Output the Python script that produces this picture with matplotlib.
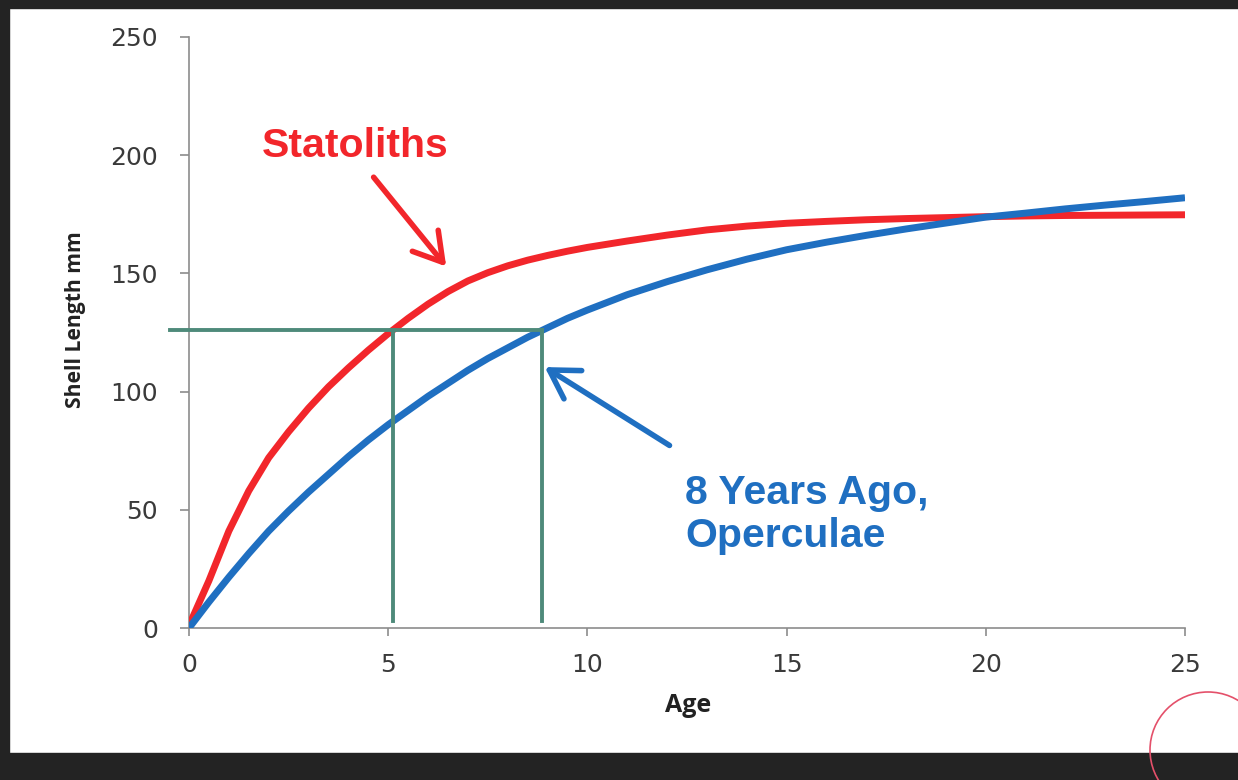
import matplotlib.pyplot as plt
from matplotlib.patches import Rectangle, Ellipse

# Growth curves: half-year steps while the curves bend sharply, yearly after that
age = [0, 0.5, 1, 1.5, 2, 2.5, 3, 3.5, 4, 4.5, 5, 5.5, 6, 6.5, 7, 7.5, 8, 8.5, 9,
       9.5, 10, 11, 12, 13, 14, 15, 16, 17, 18, 19, 20, 21, 22, 23, 24, 25]
statoliths = [1, 20, 41, 58, 72, 83, 93, 102, 110, 117.5, 124.5, 131, 137, 142.3,
              146.8, 150.3, 153.2, 155.6, 157.6, 159.4, 161, 163.7, 166.2, 168.4,
              170, 171.2, 172, 172.7, 173.2, 173.6, 174, 174.3, 174.5, 174.6, 174.7,
              174.8]
operculae = [0, 11, 21.5, 31.5, 41, 49.5, 57.5, 65, 72.5, 79.5, 86, 92, 98, 103.5,
             109, 114, 118.5, 123, 127, 131, 134.5, 141, 146.5, 151.5, 156, 160,
             163.2, 166.1, 168.8, 171.3, 173.8, 175.5, 177.3, 178.9, 180.4, 182]

# Reference length and the two ages it corresponds to
ref_length = 126
ref_ages = [5.12, 8.86]

RED = '#f2262b'
BLUE = '#1f6fc1'
GREEN = '#4e8a7a'
GREY = '#8c8c8c'

W, H = 1238, 780
fig = plt.figure(figsize=(W / 100, H / 100), dpi=100)
ax = fig.add_axes([189 / W, 1 - 628 / H, (1185 - 189) / W, (628 - 37) / H])

ax.plot(age, statoliths, color=RED, lw=5, solid_capstyle='butt', zorder=3)
ax.plot(age, operculae, color=BLUE, lw=5, solid_capstyle='butt', zorder=3)

# reference lines
ax.plot([-0.48, ref_ages[1]], [ref_length, ref_length], color=GREEN, lw=2.8,
        clip_on=False, zorder=4)
for a in ref_ages:
    ax.plot([a, a], [ref_length, 3], color=GREEN, lw=2.8, zorder=4)

ax.set_xlim(0, 25)
ax.set_ylim(0, 250)
ax.set_xticks([0, 5, 10, 15, 20, 25])
ax.set_yticks([0, 50, 100, 150, 200, 250])

for s in ['top', 'right']:
    ax.spines[s].set_visible(False)
for s in ['left', 'bottom']:
    ax.spines[s].set_color(GREY)
    ax.spines[s].set_linewidth(1.2)
ax.tick_params(axis='y', length=6.5, width=1.2, color=GREY, pad=16,
               labelsize=18, labelcolor='#3a3a3a')
ax.tick_params(axis='x', length=6, width=1.2, color=GREY, pad=12,
               labelsize=18, labelcolor='#3a3a3a')

fig.text(688 / W, 1 - 705 / H, 'Age', ha='center', va='center',
         fontsize=18, fontweight='bold', family='Open Sans', color='#222222')
fig.text(75 / W, 1 - 320 / H, 'Shell Length mm', ha='center', va='center',
         rotation=90, fontsize=15.2, fontweight='bold', family='Open Sans',
         color='#222222')

# callouts
head = '->,head_length=1.0,head_width=0.6'
ax.annotate('', xy=(6.5, 152), xytext=(4.59, 191.6),
            arrowprops=dict(arrowstyle=head, mutation_scale=20, color=RED, lw=4))
ax.text(1.82, 204, 'Statoliths', color=RED, fontsize=29.5, fontweight='bold',
        family='Liberation Sans', ha='left', va='center')

ax.annotate('', xy=(8.87, 111), xytext=(12.12, 76.6),
            arrowprops=dict(arrowstyle=head, mutation_scale=20, color=BLUE, lw=4))
ax.text(12.45, 48.2, '8 Years Ago,\nOperculae', color=BLUE, fontsize=29.5,
        fontweight='bold', family='Liberation Sans', ha='left', va='center',
        linespacing=1.17)

# dark frame around the slide
for x, y, w, h in [(0, 1 - 8 / H, 1, 8 / H), (0, 0, 9 / W, 1),
                   (0, 0, 1, (H - 753) / H)]:
    fig.patches.append(Rectangle((x, y), w, h, transform=fig.transFigure,
                                 color='#232323', zorder=0))
fig.patches.append(Ellipse((1208 / W, 1 - 750 / H), 116 / W, 116 / H,
                           transform=fig.transFigure, fill=False,
                           edgecolor='#e4506a', lw=1.2, zorder=5))

fig.savefig('out.png', dpi=100)
